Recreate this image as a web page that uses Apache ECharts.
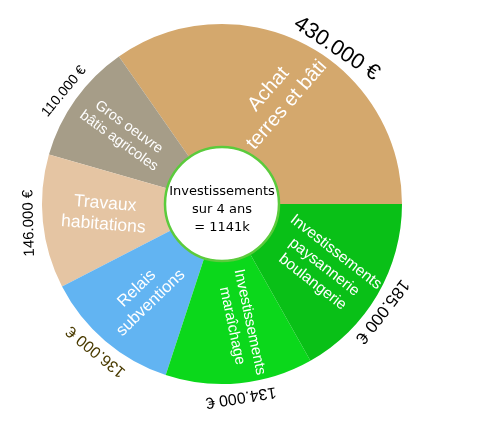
<!DOCTYPE html>
<html>
<head>
<meta charset="utf-8">
<script src="https://cdn.jsdelivr.net/npm/echarts@6/dist/echarts.min.js"></script>
<style>
html,body{margin:0;padding:0;background:#fff;}
#chart{width:501px;height:422px;}
</style>
</head>
<body>
<div id="chart"></div>
<script>
// ---- data ----
const categories = [
  'Achat\nterres et bâti',
  'Gros oeuvre\nbâtis agricoles',
  'Travaux\nhabitations',
  'Relais\nsubventions',
  'Investissements\nmaraîchage',
  'Investissements\npaysannerie\nboulangerie'
];
// slice sizes as drawn in the picture (angular share, in k€ of the 1141k total)
const sliceShares = [396, 124, 137, 141, 151, 192];
// amounts printed around the ring
const amounts = [430000, 110000, 146000, 136000, 134000, 185000];
const centerLines = ['Investissements', 'sur 4 ans'];

// ---- styles ----
const colors = ['#D4A86D', '#A69D88', '#E5C5A3', '#62B4F2', '#0BD81B', '#09C017'];
const innerRotate = [49, -36, -4.5, 44, -78, -38];
const innerSize = [20, 14.5, 17.5, 16.5, 15, 15.5];
const innerOffset = [null, null, [2, -2], null, [1.5, -7], [0, 3]];
const outerRotate = [-33.7, 50.4, 91.4, 140.5, 189, 232];
const outerSize = [22, 14, 15, 16, 16, 17];
const outerColor = ['#000', '#000', '#000', '#4A3B00', '#000', '#000'];
const outerOffset = [[30, 0], null, null, null, null, [12, 0]];

function fmtEuro(v) {
  const s = String(Math.round(v));
  return s.replace(/\B(?=(\d{3})+(?!\d))/g, '.') + ' €';
}
const total = amounts.reduce((a, b) => a + b, 0);

const CX = 222, CY = 204;

const chart = echarts.init(document.getElementById('chart'), null, {renderer: 'canvas'});
chart.setOption({
  animation: false,
  series: [
    {
      type: 'pie',
      center: [CX, CY],
      radius: [55, 180],
      startAngle: 0,
      clockwise: false,
      avoidLabelOverlap: false,
      silent: true,
      labelLine: {show: false},
      data: sliceShares.map((v, i) => {
        const label = {
          show: true,
          position: 'inside',
          formatter: '{b}',
          rotate: innerRotate[i],
          color: '#fff',
          fontFamily: 'Liberation Sans',
          fontSize: innerSize[i],
          lineHeight: Math.round(innerSize[i] * 1.2),
          align: 'center'
        };
        if (innerOffset[i]) label.offset = innerOffset[i];
        return {value: v, name: categories[i], itemStyle: {color: colors[i]}, label};
      })
    },
    {
      type: 'pie',
      center: [CX, CY],
      radius: [180, 202],
      startAngle: 0,
      clockwise: false,
      avoidLabelOverlap: false,
      silent: true,
      labelLine: {show: false},
      itemStyle: {color: 'rgba(0,0,0,0)'},
      data: sliceShares.map((v, i) => {
        const label = {
          show: true,
          position: 'inside',
          formatter: fmtEuro(amounts[i]),
          rotate: outerRotate[i],
          color: outerColor[i],
          fontFamily: 'Liberation Sans',
          fontSize: outerSize[i]
        };
        if (outerOffset[i]) label.offset = outerOffset[i];
        return {value: v, name: categories[i], label};
      })
    },
    {
      type: 'pie',
      center: [CX, CY],
      radius: [0, 57],
      silent: true,
      labelLine: {show: false},
      itemStyle: {color: '#fff', borderColor: '#5BCB3C', borderWidth: 2.5},
      label: {
        show: true,
        position: 'center',
        color: '#000',
        fontFamily: 'DejaVu Sans',
        fontSize: 13,
        lineHeight: 18,
        offset: [0, 6]
      },
      data: [{
        value: total,
        name: centerLines.concat('= ' + Math.round(total / 1000) + 'k').join('\n')
      }]
    }
  ]
});
</script>
</body>
</html>
